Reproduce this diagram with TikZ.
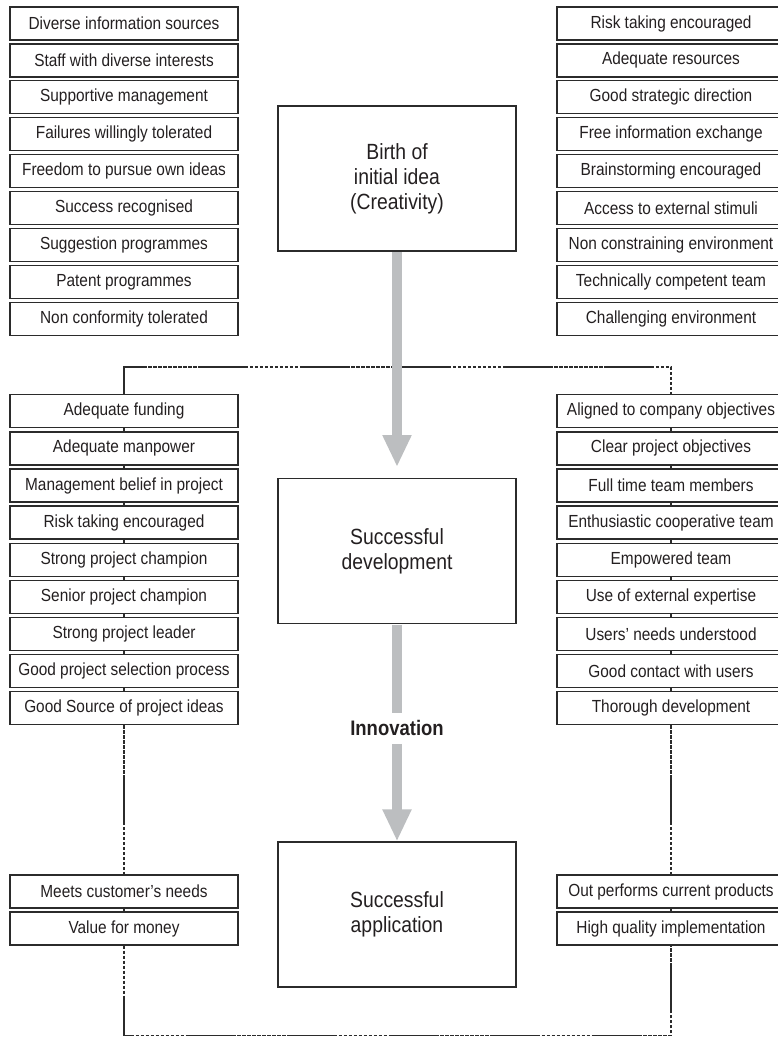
\documentclass[tikz,border=0pt]{standalone}
\usepackage{fontspec}
\setmainfont[FakeStretch=0.88]{Liberation Sans}
\usepackage{tikz}
\usetikzlibrary{arrows.meta, positioning}
\definecolor{ink}{HTML}{231F20}
\definecolor{framegray}{HTML}{2B2B2B}
\definecolor{flowgray}{HTML}{BCBEC0}
\tikzstyle{factor} = [
  rectangle, draw=framegray, line width=1.3pt,
  minimum width=228pt, minimum height=33pt, inner sep=0pt,
  text=ink, font=\fontsize{17.5}{20}\selectfont
]
\tikzstyle{stage} = [
  rectangle, draw=framegray, line width=1.3pt,
  minimum width=238pt, minimum height=145pt,
  align=center, text=ink, font=\fontsize{22}{25}\selectfont
]
\tikzstyle{flow} = [line width=10pt, draw=flowgray, shorten <=0.7pt,
  -{Triangle[width=27pt,length=32pt]}]
\tikzstyle{flowline} = [line width=10pt, draw=flowgray, shorten <=0.7pt]
\tikzstyle{link} = [line width=1.3pt, draw=framegray,
  dash pattern=on 3.5pt off 1.5pt on 3.5pt off 1.5pt on 3.5pt off 1.5pt
  on 3.5pt off 1.5pt on 3.5pt off 1.5pt on 3.5pt off 1.5pt on 3.5pt
  off 1.5pt on 3.5pt off 1.5pt on 3.5pt off 1.5pt on 3.5pt off 1.5pt
  on 50pt off 1.5pt]

\begin{document}
\begin{tikzpicture}[x=1pt, y=-1pt]
  \useasboundingbox (0,0) rectangle (777,1038);

  % Creativity factors (left)
  \node[factor] (ideaL1) at (124, 23.5) {Diverse information sources};
  \node[factor] (ideaL2) at (124, 60.4) {Staff with diverse interests};
  \node[factor] (ideaL3) at (124, 97.3) {Supportive management};
  \node[factor] (ideaL4) at (124, 134.2) {Failures willingly tolerated};
  \node[factor] (ideaL5) at (124, 171.1) {Freedom to pursue own ideas};
  \node[factor] (ideaL6) at (124, 208.0) {Success recognised};
  \node[factor] (ideaL7) at (124, 244.9) {Suggestion programmes};
  \node[factor] (ideaL8) at (124, 281.8) {Patent programmes};
  \node[factor] (ideaL9) at (124, 318.7) {Non conformity tolerated};

  % Creativity factors (right)
  \node[factor] (ideaR1) at (671, 23.5) {Risk taking encouraged};
  \node[factor] (ideaR2) at (671, 60.4) {Adequate resources};
  \node[factor] (ideaR3) at (671, 97.3) {Good strategic direction};
  \node[factor] (ideaR4) at (671, 134.2) {Free information exchange};
  \node[factor] (ideaR5) at (671, 171.1) {Brainstorming encouraged};
  \node[factor] (ideaR6) at (671, 208.0) {Access to external stimuli};
  \node[factor] (ideaR7) at (671, 244.9) {Non constraining environment};
  \node[factor] (ideaR8) at (671, 281.8) {Technically competent team};
  \node[factor] (ideaR9) at (671, 318.7) {Challenging environment};

  % Development factors (left)
  \node[factor] (devL1) at (124, 411.3) {Adequate funding};
  \node[factor] (devL2) at (124, 448.4) {Adequate manpower};
  \node[factor] (devL3) at (124, 485.5) {Management belief in project};
  \node[factor] (devL4) at (124, 522.6) {Risk taking encouraged};
  \node[factor] (devL5) at (124, 559.7) {Strong project champion};
  \node[factor] (devL6) at (124, 596.8) {Senior project champion};
  \node[factor] (devL7) at (124, 633.9) {Strong project leader};
  \node[factor] (devL8) at (124, 671.0) {Good project selection process};
  \node[factor] (devL9) at (124, 708.1) {Good Source of project ideas};

  % Development factors (right)
  \node[factor] (devR1) at (671, 411.3) {Aligned to company objectives};
  \node[factor] (devR2) at (671, 448.4) {Clear project objectives};
  \node[factor] (devR3) at (671, 485.5) {Full time team members};
  \node[factor] (devR4) at (671, 522.6) {Enthusiastic cooperative team};
  \node[factor] (devR5) at (671, 559.7) {Empowered team};
  \node[factor] (devR6) at (671, 596.8) {Use of external expertise};
  \node[factor] (devR7) at (671, 633.9) {Users’ needs understood};
  \node[factor] (devR8) at (671, 671.0) {Good contact with users};
  \node[factor] (devR9) at (671, 708.1) {Thorough development};

  % Application factors
  \node[factor] (appL1) at (124, 891.5) {Meets customer’s needs};
  \node[factor] (appL2) at (124, 928.5) {Value for money};
  \node[factor] (appR1) at (671, 891.5) {Out performs current products};
  \node[factor] (appR2) at (671, 928.5) {High quality implementation};

  % Stages
  \node[stage] (birth) at (397, 178.5) {Birth of\\initial idea\\(Creativity)};
  \node[stage] (develop) at (397, 551) {Successful\\development};
  \node[stage] (apply) at (397, 914.5) {Successful\\application};
  \node[inner sep=0pt, minimum height=30pt, text=ink,
        font=\fontsize{21}{24}\selectfont\bfseries] (innov) at (397, 728) {Innovation};

  \coordinate (topL) at (124, 367);
  \coordinate (topR) at (671, 367);
  \coordinate (botL) at (124, 1035.5);
  \coordinate (botR) at (671, 1035.5);
  \coordinate (devtip) at (397, 467);

  % Linking lines
  \draw[link, dash phase=50pt] (devL1.north) -- (topL) -- (topR) -- (devR1.north);
  \foreach \i/\j in {1/2,2/3,3/4,4/5,5/6,6/7,7/8,8/9}
    \draw[link, solid] (devL\i.south) -- (devL\j.north);
  \foreach \i/\j in {1/2,2/3,3/4,4/5,5/6,6/7,7/8,8/9}
    \draw[link, solid] (devR\i.south) -- (devR\j.north);
  \draw[link] (devL9.south) -- (appL1.north);
  \draw[link] (devR9.south) -- (appR1.north);
  \draw[link, solid] (appL1.south) -- (appL2.north);
  \draw[link, solid] (appR1.south) -- (appR2.north);
  \draw[link] (appL2.south) -- (botL) -- (botR) -- (appR2.south);

  % Flow arrows
  \draw[flow] (birth.south) -- (devtip);
  \draw[flowline] (develop.south) -- (innov.north);
  \draw[flow] (innov.south) -- (apply.north);

\end{tikzpicture}
\end{document}
